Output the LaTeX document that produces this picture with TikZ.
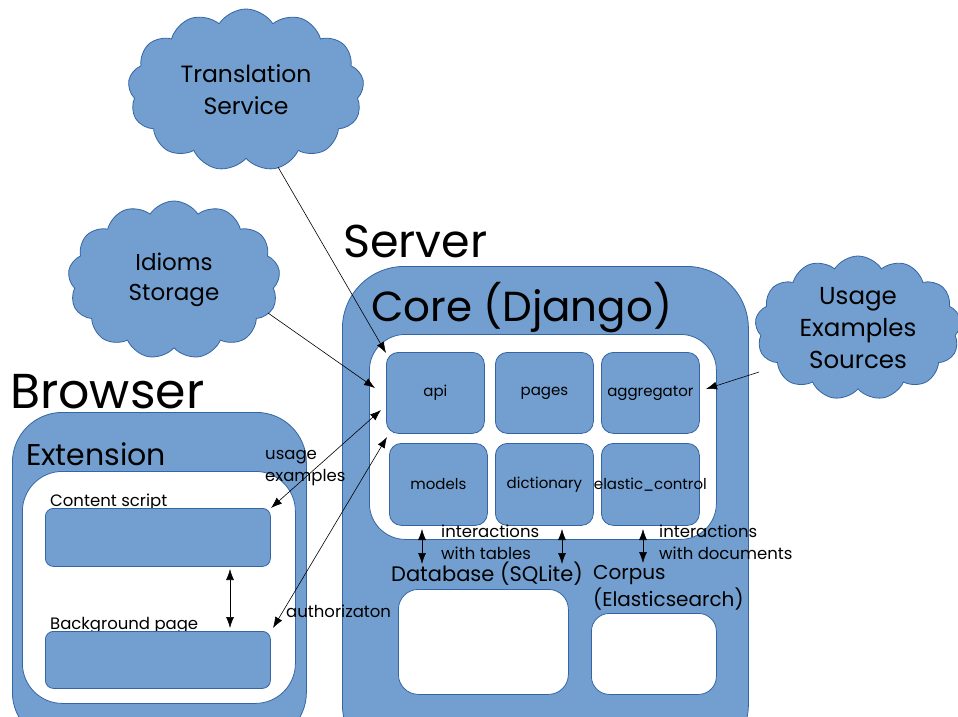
\documentclass[tikz,border=0pt]{standalone}
\usepackage{fontspec}
\setmainfont{Poppins}
\usetikzlibrary{shapes.symbols,arrows.meta,calc}
\definecolor{boxfill}{HTML}{729FCF}
\definecolor{boxline}{HTML}{3465A4}
\tikzset{
  blue box/.style={draw=boxline, fill=boxfill, line width=0.8pt, inner sep=0pt, anchor=north west},
  white box/.style={draw=boxline, fill=white, line width=0.8pt, inner sep=0pt, anchor=north west},
  cloudnode/.style={cloud, cloud puffs=13, cloud puff arc=115, cloud ignores aspect, draw=boxline, fill=boxfill, line width=0.8pt, align=center, inner sep=0pt},
  lbl/.style={anchor=base west, inner sep=0pt, text=black},
  small/.style={font=\fontsize{16.5}{18}\selectfont},
  conn/.style={draw=black, line width=0.6pt, -{Latex[length=11pt,width=8pt]}},
  dconn/.style={draw=black, line width=0.6pt, {Latex[length=11pt,width=8pt]}-{Latex[length=11pt,width=8pt]}},
}
\begin{document}
\begin{tikzpicture}[x=1pt,y=-1pt]
\useasboundingbox (0,0) rectangle (958,716);
\clip (0,0) rectangle (958,716);
\fill[white] (0,0) rectangle (958,716);

% ---------- Browser ----------
\node[lbl, font=\fontsize{49}{50}\selectfont] (browser) at (10,408) {Browser};
\node[blue box, minimum width=294pt, minimum height=330pt, rounded corners=50pt] (extouter) at (12,412) {};
\node[lbl, font=\fontsize{30}{32}\selectfont] (extlbl) at (26,465) {Extension};
\node[white box, minimum width=273pt, minimum height=232pt, rounded corners=40pt] (extinner) at (22,471) {};
\node[lbl, small] (cslbl) at (50,506) {Content script};
\node[blue box, minimum width=225pt, minimum height=58pt, rounded corners=8pt] (cs) at (45,508) {};
\node[lbl, small] (bglbl) at (50,629) {Background page};
\node[blue box, minimum width=225pt, minimum height=57pt, rounded corners=8pt] (bg) at (45,631) {};

% ---------- Server ----------
\node[lbl, font=\fontsize{46}{48}\selectfont] (server) at (343,257) {Server};
\node[blue box, minimum width=406pt, minimum height=500pt, rounded corners=62pt] (core) at (342,266) {};
\node[lbl, font=\fontsize{42}{44}\selectfont] (corelbl) at (371,321) {Core (Django)};
\node[white box, minimum width=347pt, minimum height=205pt, rounded corners=36pt] (coreinner) at (369,334) {};

\tikzset{modbox/.style={blue box, minimum width=98pt, minimum height=81pt, rounded corners=12pt}}
\node[modbox] (api) at (386,352) {};
\node[modbox] (pages) at (495,352) {};
\node[modbox] (aggr) at (601,352) {};
\node[modbox, minimum height=82pt] (models) at (389,443) {};
\node[modbox, minimum height=82pt] (dict) at (495,443) {};
\node[modbox, minimum height=82pt] (elastic) at (601,443) {};
\node[font=\fontsize{15}{17}\selectfont] at (api.center) {api};
\node[font=\fontsize{15}{17}\selectfont] at (pages.center) {pages};
\node[font=\fontsize{15}{17}\selectfont] at (aggr.center) {aggregator};
\node[font=\fontsize{15}{17}\selectfont] at (models.center) {models};
\node[font=\fontsize{15}{17}\selectfont] at (dict.center) {dictionary};
\node[font=\fontsize{15}{17}\selectfont] at (elastic.center) {elastic\_control};

\node[lbl, small] (itab1) at (441,537) {interactions};
\node[lbl, small] (itab2) at (441,559) {with tables};
\node[lbl, small] (idoc1) at (659,537) {interactions};
\node[lbl, small] (idoc2) at (659,559) {with documents};

\node[lbl, font=\fontsize{21}{22}\selectfont] (dblbl) at (391,581) {Database (SQLite)};
\node[white box, minimum width=170pt, minimum height=105pt, rounded corners=20pt] (db) at (398,589) {};
\node[lbl, font=\fontsize{20}{22}\selectfont] (corp1) at (593,579) {Corpus};
\node[lbl, font=\fontsize{20}{22}\selectfont] (corp2) at (593,606) {(Elasticsearch)};
\node[white box, minimum width=125pt, minimum height=81pt, rounded corners=18pt] (corpus) at (591,613) {};

% ---------- Clouds ----------
\node[cloudnode, minimum width=236pt, minimum height=162pt, font=\fontsize{23.5}{32}\selectfont] (trans) at (246,90) {Translation\\Service};
\node[cloudnode, minimum width=212pt, minimum height=158pt, font=\fontsize{23}{30}\selectfont] (idioms) at (174,280) {Idioms\\Storage};
\node[cloudnode, minimum width=206pt, minimum height=144pt, font=\fontsize{24.5}{32}\selectfont] (usage) at (858,328) {Usage\\Examples\\Sources};

% ---------- Labels of connectors ----------
\node[lbl, small] (uelbl1) at (265,459) {usage};
\node[lbl, small] (uelbl2) at (265,481) {examples};
\node[lbl, small] (authlbl) at (286,617) {authorizaton};

% ---------- Connector end points ----------
\coordinate (trans-out) at (278,167);
\coordinate (api-in1) at (386,353);
\coordinate (idioms-out) at (268,313);
\coordinate (api-in2) at (375,388);
\coordinate (cs-end) at (271,508);
\coordinate (api-in3) at (381,410);
\coordinate (bg-end) at (273,628);
\coordinate (api-in4) at (387,437);
\coordinate (usage-out) at (759,372);
\coordinate (aggr-in) at (706,389);
\coordinate (cs-bot) at (230,569);
\coordinate (bg-top) at (230,628);
\coordinate (db-a1) at (422,529);
\coordinate (db-a2) at (422,564);
\coordinate (db-b1) at (562,529);
\coordinate (db-b2) at (562,564);
\coordinate (co-a1) at (643,529);
\coordinate (co-a2) at (643,563);

\draw[conn] (trans-out) -- (api-in1);
\draw[conn] (idioms-out) -- (api-in2);
\draw[dconn] (cs-end) -- (api-in3);
\draw[dconn] (bg-end) -- (api-in4);
\draw[conn] (usage-out) -- (aggr-in);
\draw[dconn] (cs-bot) -- (bg-top);
\draw[dconn] (db-a1) -- (db-a2);
\draw[dconn] (db-b1) -- (db-b2);
\draw[dconn] (co-a1) -- (co-a2);
\end{tikzpicture}
\end{document}
